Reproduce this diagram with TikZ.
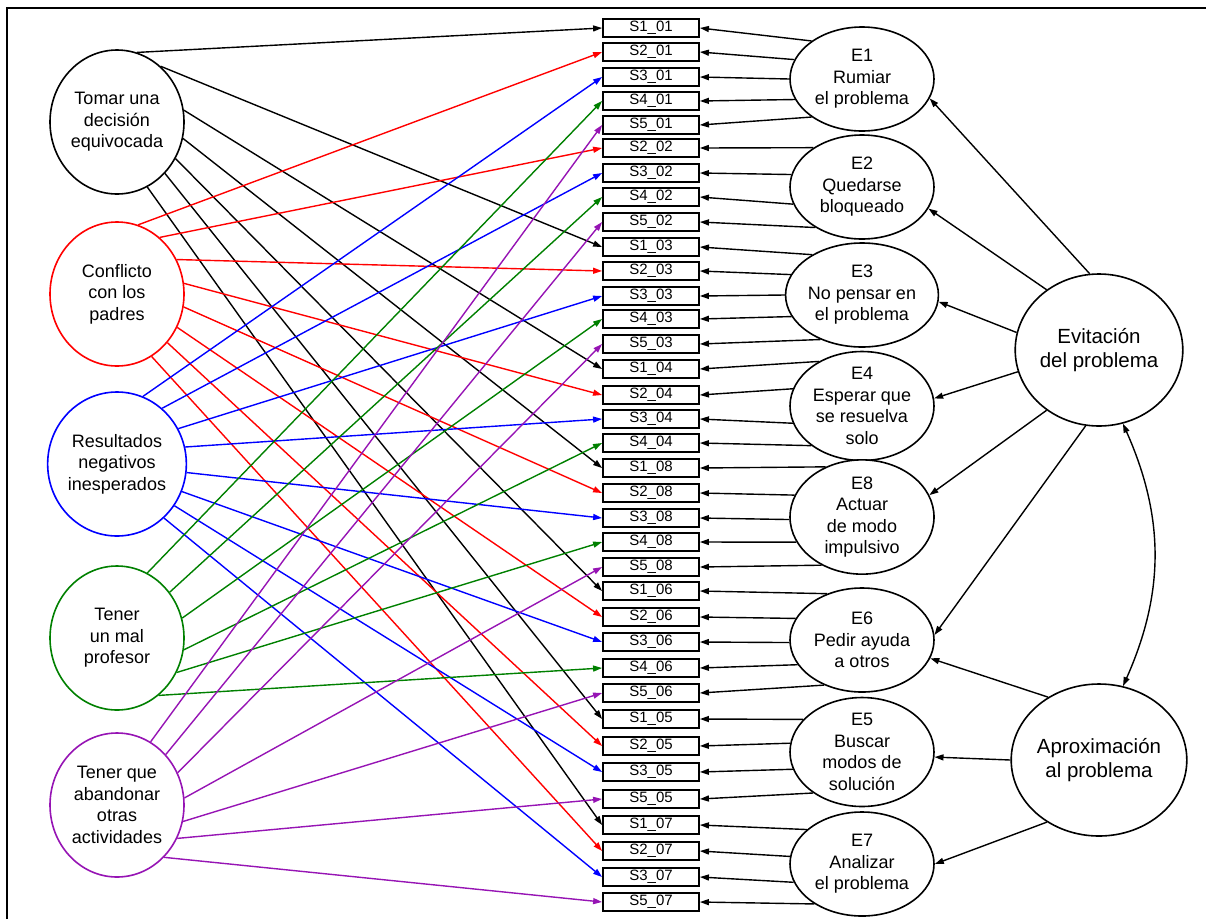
\documentclass[tikz,border=0pt]{standalone}
\usepackage{fontspec}
\setmainfont{Liberation Sans}
\usetikzlibrary{shapes.geometric,arrows.meta}
\definecolor{cred}{RGB}{255,0,0}
\definecolor{cblue}{RGB}{0,0,255}
\definecolor{cgreen}{RGB}{0,128,0}
\definecolor{cpurple}{RGB}{150,20,180}
\tikzset{
  arr/.style={line width=1.4pt,-{Triangle[length=9pt,width=6pt]}},
  lat/.style={ellipse,draw,line width=1.6pt,fill=white,inner sep=0pt,minimum width=134pt,minimum height=144pt,align=center,font=\fontsize{18}{21.5}\selectfont},
  emo/.style={ellipse,draw,line width=1.6pt,fill=white,inner sep=0pt,minimum width=144pt,minimum height=104pt,align=center,font=\fontsize{18}{21.5}\selectfont},
  big/.style={ellipse,draw,line width=1.6pt,fill=white,inner sep=0pt,minimum width=148pt,minimum height=152pt,align=center,font=\fontsize{20.5}{24}\selectfont},
  sbox/.style={rectangle,draw,line width=1.8pt,fill=white,inner sep=0pt,minimum width=96pt,minimum height=18pt,font=\fontsize{15}{15}\selectfont},
}
\begin{document}
\begin{tikzpicture}[x=1pt,y=-1pt]
\useasboundingbox (0,0) rectangle (1206,919);
\draw[line width=2pt] (7,919) -- (7,8) -- (1206,8);
% left factors
\node[lat,draw=black] (tomar) at (117,122) {Tomar una\\decisión\\equivocada};
\node[lat,draw=cred] (confl) at (117,294) {Conflicto\\con los\\padres};
\node[lat,draw=cblue] (resul) at (117,464) {Resultados\\negativos\\inesperados};
\node[lat,draw=cgreen] (profe) at (117,638) {Tener\\un mal\\profesor};
\node[lat,draw=cpurple] (aband) at (117,805) {Tener que\\abandonar\\otras\\actividades};
% boxes
\foreach \a/\b/\y in {1/01/28,2/01/52,3/01/77,4/01/101,5/01/125,2/02/148,3/02/173,4/02/197,5/02/222,1/03/247,2/03/271,3/03/296,4/03/319,5/03/344,1/04/369,2/04/395,3/04/419,4/04/443,1/08/468,2/08/493,3/08/518,4/08/542,5/08/567,1/06/591,2/06/617,3/06/642,4/06/668,5/06/693,1/05/719,2/05/746,3/05/772,5/05/799,1/07/825,2/07/851,3/07/877,5/07/902}
  \node[sbox] (s\a\b) at (651,\y) {S\a\_\b};
% emotion ellipses
\node[emo] (e1) at (862,79) {E1\\Rumiar\\el problema};
\node[emo] (e2) at (862,187) {E2\\Quedarse\\bloqueado};
\node[emo] (e3) at (862,295) {E3\\No pensar en\\el problema};
\node[emo] (e4) at (862,406) {E4\\Esperar que\\se resuelva\\solo};
\node[emo] (e8) at (862,517) {E8\\Actuar\\de modo\\impulsivo};
\node[emo] (e6) at (862,640) {E6\\Pedir ayuda\\a otros};
\node[emo] (e5) at (862,752) {E5\\Buscar\\modos de\\solución};
\node[emo] (e7) at (862,864) {E7\\Analizar\\el problema};
% big factors
\node[big] (evit) at (1099,350) {Evitación\\del problema};
\node[big] (aprox) at (1099,760) {Aproximación\\al problema};
% left arrows
\foreach \b/\g in {01/74,03/52,04/10,08/-14,06/-32,05/-47,07/-65} \draw[arr,black] (tomar.\g) -- (s1\b.west);
\foreach \b/\g in {01/73,02/53,03/30,04/9,08/-11,06/-29,05/-44,07/-61} \draw[arr,cred] (confl.\g) -- (s2\b.west);
\foreach \b/\g in {01/69,02/51,03/30,04/14,08/-7,06/-23,05/-36,07/-49} \draw[arr,cblue] (resul.\g) -- (s3\b.west);
\foreach \b/\g in {01/65,02/41,03/17,04/-10,08/-30,06/-54} \draw[arr,cgreen] (profe.\g) -- (s4\b.west);
\foreach \b/\g in {01/62,02/46,03/28,08/6,06/-14,05/-29,07/-48} \draw[arr,cpurple] (aband.\g) -- (s5\b.west);
% emotion arrows
\foreach \s/\g in {101/143,201/164,301/180,401/197,501/217} \draw[arr] (e1.\g) -- (s\s.east);
\foreach \s/\g in {202/141,302/170,402/194,502/221} \draw[arr] (e2.\g) -- (s\s.east);
\foreach \s/\g in {103/141,203/164,303/180,403/197,503/227} \draw[arr] (e3.\g) -- (s\s.east);
\foreach \s/\g in {104/134,204/166,304/194,404/218} \draw[arr] (e4.\g) -- (s\s.east);
\foreach \s/\g in {108/126,208/162,308/182,408/201,508/230} \draw[arr] (e8.\g) -- (s\s.east);
\foreach \s/\g in {106/127,206/162,306/182,406/201,506/230} \draw[arr] (e6.\g) -- (s\s.east);
\foreach \s/\g in {105/151,205/173,305/194,505/220} \draw[arr] (e5.\g) -- (s\s.east);
\foreach \s/\g in {107/148,207/174,307/195,507/220} \draw[arr] (e7.\g) -- (s\s.east);
% higher-order arrows
\foreach \e/\g/\h in {e1/97/-16,e2/131/-18,e3/168/-5,e4/195/6,e8/229/18,e6/260/4} \draw[arr] (evit.\g) -- (\e.\h);
\foreach \e/\g/\h in {e6/129/-15,e5/180/-4,e7/230/0} \draw[arr] (aprox.\g) -- (\e.\h);
\draw[line width=1.4pt,{Triangle[length=9pt,width=6pt]}-{Triangle[length=9pt,width=6pt]}] (evit.-72) to[out=-66,in=66] (aprox.72);
\end{tikzpicture}
\end{document}
